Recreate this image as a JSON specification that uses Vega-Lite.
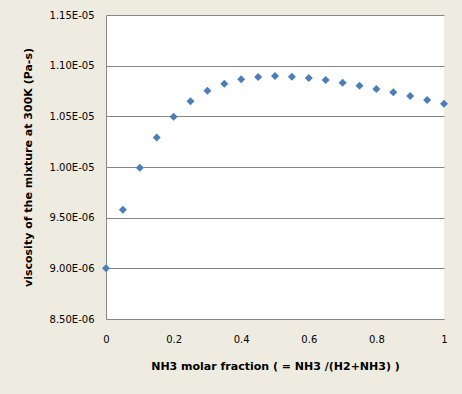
{
  "$schema": "https://vega.github.io/schema/vega-lite/v6.json",
  "width": 338,
  "height": 304,
  "autosize": {"type": "none"},
  "padding": {"left": 106, "top": 15, "right": 18, "bottom": 75},
  "background": "#EEECE1",
  "config": {
    "view": {"stroke": null, "fill": "#FFFFFF"},
    "axis": {"labelFont": "DejaVu Sans", "labelFontSize": 10, "labelColor": "#000000", "titleFont": "DejaVu Sans", "titleFontSize": 11, "titleFontWeight": "bold", "titleColor": "#000000", "domainColor": "#868686", "gridColor": "#868686", "gridOpacity": 1, "ticks": false}
  },
  "data": {
    "values": [
      {"x": 0.00, "v": 9.000e-6},
      {"x": 0.05, "v": 9.578e-6},
      {"x": 0.10, "v": 9.993e-6},
      {"x": 0.15, "v": 1.0290e-5},
      {"x": 0.20, "v": 1.0496e-5},
      {"x": 0.25, "v": 1.0650e-5},
      {"x": 0.30, "v": 1.0753e-5},
      {"x": 0.35, "v": 1.0822e-5},
      {"x": 0.40, "v": 1.0865e-5},
      {"x": 0.45, "v": 1.0888e-5},
      {"x": 0.50, "v": 1.0898e-5},
      {"x": 0.55, "v": 1.0891e-5},
      {"x": 0.60, "v": 1.0878e-5},
      {"x": 0.65, "v": 1.0859e-5},
      {"x": 0.70, "v": 1.0832e-5},
      {"x": 0.75, "v": 1.0802e-5},
      {"x": 0.80, "v": 1.0770e-5},
      {"x": 0.85, "v": 1.0737e-5},
      {"x": 0.90, "v": 1.0700e-5},
      {"x": 0.95, "v": 1.0661e-5},
      {"x": 1.00, "v": 1.0625e-5}
    ]
  },
  "mark": {"type": "point", "shape": "diamond", "filled": true, "size": 64, "color": "#4A7EBB", "opacity": 1},
  "encoding": {
    "x": {
      "field": "x", "type": "quantitative",
      "scale": {"domain": [0, 1], "nice": false, "zero": false},
      "axis": {"values": [0, 0.2, 0.4, 0.6, 0.8, 1], "grid": false, "labelPadding": 15, "titlePadding": 16, "title": "NH3 molar fraction ( = NH3 /(H2+NH3) )", "labelFlush": false,
        "labelExpr": "datum.value == 0 ? '0' : datum.value == 1 ? '1' : format(datum.value, '.1f')"}
    },
    "y": {
      "field": "v", "type": "quantitative",
      "scale": {"domain": [8.5e-6, 1.15e-5], "nice": false, "zero": false},
      "axis": {
        "values": [8.5e-6, 9.0e-6, 9.5e-6, 1.0e-5, 1.05e-5, 1.1e-5, 1.15e-5],
        "labelExpr": "replace(format(datum.value, '.2e'), regexp('e-(\\\\d)$'), 'E-0$1')",
        "labelPadding": 12, "titlePadding": 16, "labelFlush": false,
        "title": "viscosity of the mixture at 300K  (Pa-s)"
      }
    }
  }
}
